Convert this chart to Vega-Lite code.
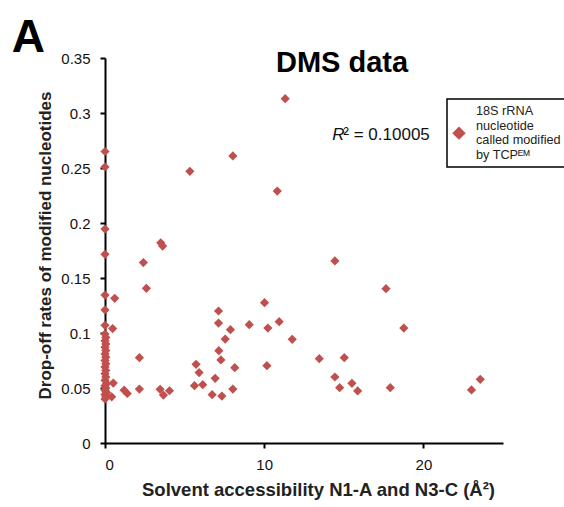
{
  "$schema": "https://vega.github.io/schema/vega-lite/v6.json",
  "autosize": {"type": "none"},
  "padding": {"left": 105, "top": 58, "right": 61, "bottom": 64},
  "width": 398,
  "height": 385,
  "background": "white",
  "title": {
    "text": "DMS data",
    "font": "Liberation Sans",
    "fontSize": 29,
    "fontWeight": "bold",
    "color": "black",
    "anchor": "middle",
    "frame": "group",
    "baseline": "alphabetic",
    "offset": 0,
    "dx": 38,
    "dy": 86
  },
  "config": {
    "view": {"stroke": null},
    "axis": {
      "grid": false,
      "domainColor": "black",
      "domainWidth": 2,
      "tickColor": "black",
      "tickWidth": 2,
      "tickSize": 5,
      "labelFont": "Liberation Sans",
      "labelFontSize": 15,
      "labelColor": "#111111",
      "titleFont": "Liberation Sans",
      "titleFontWeight": "bold",
      "titleColor": "#222222"
    },
    "legend": {
      "orient": "none",
      "legendX": 342,
      "legendY": 41,
      "strokeColor": "black",
      "strokeWidth": 1.5,
      "fillColor": "white",
      "padding": 5,
      "symbolType": "M-1,3.3L0,2.3L1,3.3L0,4.3Z",
      "symbolSize": 180,
      "symbolStrokeWidth": 0,
      "labelFont": "Liberation Sans",
      "labelFontSize": 12.7,
      "labelColor": "#222222",
      "labelLineHeight": 15.3,
      "labelLimit": 200,
      "labelOffset": 10
    }
  },
  "layer": [
    {
      "data": {
        "values": [
          {"x": 11.32, "y": 0.313},
          {"x": 0, "y": 0.265},
          {"x": 0, "y": 0.251},
          {"x": 5.33, "y": 0.247},
          {"x": 8.03, "y": 0.261},
          {"x": 10.82, "y": 0.229},
          {"x": 0, "y": 0.1945},
          {"x": 0, "y": 0.1715},
          {"x": 3.5, "y": 0.182},
          {"x": 3.62, "y": 0.179},
          {"x": 2.41, "y": 0.164},
          {"x": 2.6, "y": 0.1406},
          {"x": 0, "y": 0.1345},
          {"x": 0.61, "y": 0.1315},
          {"x": 0, "y": 0.121},
          {"x": 7.13, "y": 0.12},
          {"x": 7.13, "y": 0.109},
          {"x": 0, "y": 0.107},
          {"x": 0.48, "y": 0.104},
          {"x": 2.16, "y": 0.0776},
          {"x": 1.2, "y": 0.048},
          {"x": 1.4, "y": 0.045},
          {"x": 2.16, "y": 0.049},
          {"x": 3.46, "y": 0.0488},
          {"x": 3.67, "y": 0.0436},
          {"x": 4.05, "y": 0.0475},
          {"x": 0.52, "y": 0.0545},
          {"x": 0.42, "y": 0.042},
          {"x": 10.02, "y": 0.1276},
          {"x": 7.88, "y": 0.103},
          {"x": 9.06, "y": 0.1076},
          {"x": 10.23, "y": 0.1045},
          {"x": 10.94, "y": 0.1103},
          {"x": 11.76, "y": 0.0943},
          {"x": 7.55, "y": 0.0945},
          {"x": 7.15, "y": 0.0839},
          {"x": 7.28, "y": 0.0755},
          {"x": 5.72, "y": 0.0715},
          {"x": 5.91, "y": 0.064},
          {"x": 8.15, "y": 0.0685},
          {"x": 10.17, "y": 0.0703},
          {"x": 6.92, "y": 0.0588},
          {"x": 5.62, "y": 0.0521},
          {"x": 6.14, "y": 0.053},
          {"x": 8.03, "y": 0.049},
          {"x": 6.73, "y": 0.0439},
          {"x": 7.34, "y": 0.0427},
          {"x": 14.44, "y": 0.1655},
          {"x": 17.65, "y": 0.1403},
          {"x": 18.77, "y": 0.1045},
          {"x": 13.46, "y": 0.0767},
          {"x": 15.03, "y": 0.0776},
          {"x": 14.44, "y": 0.06},
          {"x": 14.74, "y": 0.0503},
          {"x": 15.51, "y": 0.0543},
          {"x": 15.87, "y": 0.0473},
          {"x": 17.92, "y": 0.0503},
          {"x": 23.02, "y": 0.0482},
          {"x": 23.57, "y": 0.0579},
          {"x": 0, "y": 0.099},
          {"x": 0.05, "y": 0.096},
          {"x": 0, "y": 0.093},
          {"x": 0.05, "y": 0.09},
          {"x": 0, "y": 0.087},
          {"x": 0.05, "y": 0.084},
          {"x": 0, "y": 0.081},
          {"x": 0.05, "y": 0.078},
          {"x": 0, "y": 0.075},
          {"x": 0.05, "y": 0.072},
          {"x": 0, "y": 0.069},
          {"x": 0.05, "y": 0.066},
          {"x": 0, "y": 0.063},
          {"x": 0.05, "y": 0.06},
          {"x": 0, "y": 0.057},
          {"x": 0.1, "y": 0.054},
          {"x": 0, "y": 0.052},
          {"x": 0.05, "y": 0.05},
          {"x": 0, "y": 0.048},
          {"x": 0.1, "y": 0.046},
          {"x": 0, "y": 0.044},
          {"x": 0.05, "y": 0.042},
          {"x": 0, "y": 0.04}
        ]
      },
      "mark": {"type": "point", "shape": "diamond", "filled": true, "size": 85, "opacity": 1},
      "encoding": {
        "x": {
          "field": "x",
          "type": "quantitative",
          "scale": {"domain": [0, 25], "nice": false},
          "axis": {
            "values": [0, 10, 20],
            "labelPadding": 9,
            "title": "Solvent accessibility N1-A and N3-C (Å²)",
            "titleFontSize": 18.5,
            "titleX": 213,
            "titlePadding": 8
          }
        },
        "y": {
          "field": "y",
          "type": "quantitative",
          "scale": {"domain": [0, 0.35], "nice": false},
          "axis": {
            "values": [0, 0.05, 0.1, 0.15, 0.2, 0.25, 0.3, 0.35],
            "format": "~g",
            "labelPadding": 10,
            "title": "Drop-off rates of modified nucleotides",
            "titleFontSize": 17,
            "titleY": 187,
            "titlePadding": 6
          }
        },
        "color": {
          "datum": "18S rRNA\nnucleotide\ncalled modified\nby TCPᴱᴹ",
          "type": "nominal",
          "scale": {"range": ["#c0504d"]},
          "legend": {"title": null, "labelExpr": "split(datum.label, '\\n')"}
        }
      }
    },
    {
      "data": {"values": [{"x": 14.28, "y": 0.2755, "t": "R"}]},
      "mark": {"type": "text", "align": "left", "baseline": "alphabetic", "font": "Liberation Sans", "fontSize": 17, "fontStyle": "italic", "color": "#111111"},
      "encoding": {
        "x": {"field": "x", "type": "quantitative"},
        "y": {"field": "y", "type": "quantitative"},
        "text": {"field": "t"}
      }
    },
    {
      "data": {"values": [{"x": 14.97, "y": 0.2755, "t": "² = 0.10005"}]},
      "mark": {"type": "text", "align": "left", "baseline": "alphabetic", "font": "Liberation Sans", "fontSize": 17, "color": "#111111"},
      "encoding": {
        "x": {"field": "x", "type": "quantitative"},
        "y": {"field": "y", "type": "quantitative"},
        "text": {"field": "t"}
      }
    },
    {
      "data": {"values": [{"x": -5.85, "y": 0.3555, "t": "A"}]},
      "mark": {"type": "text", "align": "left", "baseline": "alphabetic", "font": "Liberation Sans", "fontSize": 46, "fontWeight": "bold", "color": "black"},
      "encoding": {
        "x": {"field": "x", "type": "quantitative"},
        "y": {"field": "y", "type": "quantitative"},
        "text": {"field": "t"}
      }
    }
  ]
}
